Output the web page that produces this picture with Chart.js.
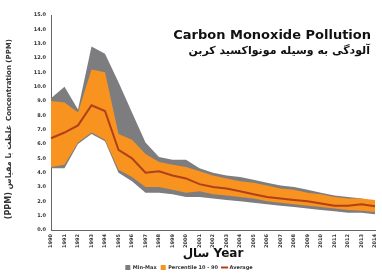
<!DOCTYPE html>
<html>
<head>
<meta charset="utf-8">
<script src="https://cdn.jsdelivr.net/npm/chart.js@4.4.1/dist/chart.umd.min.js"></script>
<style>
    html, body { margin: 0; padding: 0; background: #fff; }
    #wrap { width: 382px; height: 280px; }
</style>
</head>
<body>
<div id="wrap"><canvas id="coChart"></canvas></div>
<script>
    // data
    const years = ['1990', '1991', '1992', '1993', '1994', '1995', '1996', '1997', '1998', '1999', '2000', '2001',
        '2002', '2003', '2004', '2005', '2006', '2007', '2008', '2009', '2010', '2011', '2012', '2013', '2014'];
    const maxValues = [9.2, 10.0, 8.4, 12.8, 12.3, 10.3, 8.2, 6.1, 5.1, 4.9, 4.9, 4.3,
        4.0, 3.8, 3.7, 3.5, 3.3, 3.1, 3.0, 2.8, 2.6, 2.4, 2.3, 2.2, 2.0];
    const minValues = [4.3, 4.3, 6.0, 6.7, 6.2, 4.0, 3.4, 2.6, 2.6, 2.5, 2.3, 2.3,
        2.2, 2.1, 2.0, 1.9, 1.8, 1.7, 1.6, 1.5, 1.4, 1.3, 1.2, 1.2, 1.1];
    const p90Values = [9.0, 8.9, 8.2, 11.2, 11.0, 6.7, 6.3, 5.3, 4.75, 4.55, 4.4, 4.1,
        3.8, 3.6, 3.4, 3.3, 3.1, 2.9, 2.8, 2.6, 2.5, 2.3, 2.2, 2.2, 2.1];
    const p10Values = [4.4, 4.55, 6.1, 6.8, 6.3, 4.2, 3.7, 3.0, 3.0, 2.8, 2.6, 2.7,
        2.5, 2.4, 2.3, 2.2, 2.0, 1.9, 1.8, 1.7, 1.6, 1.5, 1.4, 1.35, 1.25];
    const avgValues = [6.4, 6.8, 7.3, 8.7, 8.3, 5.6, 5.0, 4.0, 4.1, 3.8, 3.6, 3.2,
        3.0, 2.9, 2.7, 2.5, 2.3, 2.2, 2.1, 2.0, 1.85, 1.7, 1.7, 1.8, 1.65];

    const grey = '#7d7d80';
    const orange = '#f7931e';
    const avgColor = '#b0401c';

    // titles drawn onto the canvas
    const titlesPlugin = {
        id: 'titles',
        afterDraw(chart) {
            const ctx = chart.ctx;
            ctx.save();
            ctx.fillStyle = '#111';
            ctx.textAlign = 'right';
            ctx.textBaseline = 'middle';
            ctx.font = 'bold 13px "DejaVu Sans"';
            ctx.fillText('Carbon Monoxide Pollution', 371, 36);
            ctx.font = 'bold 11px "DejaVu Sans"';
            ctx.direction = 'rtl';
            ctx.fillText('آلودگی به وسیله مونواکسید کربن', 370, 51);

            // y axis titles
            ctx.translate(9, 0);
            ctx.rotate(-Math.PI / 2);
            ctx.textAlign = 'center';
            ctx.direction = 'ltr';
            ctx.font = 'bold 7px "DejaVu Sans"';
            ctx.fillStyle = '#333';
            ctx.fillText('Concentration (PPM)', -80, 0);
            ctx.direction = 'rtl';
            ctx.font = 'bold 8px "DejaVu Sans"';
            ctx.fillText('غلظت با مقیاس (PPM)', -172, 0);
            ctx.restore();
        }
    };

    const ctx = document.getElementById('coChart');

    new Chart(ctx, {
        type: 'line',
        data: {
            labels: years,
            datasets: [
                {
                    label: 'Min-Max',
                    data: maxValues,
                    borderWidth: 0,
                    borderColor: grey,
                    backgroundColor: grey,
                    pointRadius: 0,
                    pointStyle: 'rect',
                    fill: 1,
                    order: 3
                },
                {
                    label: 'min',
                    data: minValues,
                    borderWidth: 0,
                    borderColor: grey,
                    pointRadius: 0,
                    fill: false,
                    order: 3
                },
                {
                    label: 'Percentile 10 - 90',
                    data: p90Values,
                    borderWidth: 0,
                    borderColor: orange,
                    backgroundColor: orange,
                    pointRadius: 0,
                    pointStyle: 'rect',
                    fill: 3,
                    order: 2
                },
                {
                    label: 'p10',
                    data: p10Values,
                    borderWidth: 0,
                    borderColor: orange,
                    pointRadius: 0,
                    fill: false,
                    order: 2
                },
                {
                    label: 'Average',
                    data: avgValues,
                    borderWidth: 2,
                    borderColor: avgColor,
                    backgroundColor: avgColor,
                    pointRadius: 0,
                    pointStyle: 'line',
                    fill: false,
                    order: 1
                }
            ]
        },
        options: {
            responsive: true,
            maintainAspectRatio: false,
            animation: false,
            layout: {
                padding: {left: 0, right: 4, top: 15, bottom: 0}
            },
            scales: {
                x: {
                    offset: false,
                    grid: {display: false, drawTicks: true, tickLength: 3, color: '#666'},
                    border: {color: '#666', width: 1},
                    afterFit(scale) {
                        scale.height = 31;
                    },
                    ticks: {
                        minRotation: 90,
                        maxRotation: 90,
                        autoSkip: false,
                        padding: 1,
                        color: '#333',
                        font: {size: 5, family: 'DejaVu Sans', weight: 'bold'}
                    },
                    title: {
                        display: true,
                        text: 'سال Year',
                        color: '#111',
                        padding: {top: 0, bottom: 0},
                        font: {size: 12, family: 'DejaVu Sans', weight: 'bold'}
                    }
                },
                y: {
                    min: 0,
                    max: 15,
                    grid: {display: false, drawTicks: true, tickLength: 3, color: '#666'},
                    border: {color: '#666', width: 1},
                    afterFit(scale) {
                        scale.width = 51;
                    },
                    ticks: {
                        stepSize: 1,
                        padding: 2,
                        color: '#333',
                        font: {size: 5, family: 'DejaVu Sans', weight: 'bold'},
                        callback: (v) => Number(v).toFixed(1)
                    }
                }
            },
            plugins: {
                legend: {
                    position: 'bottom',
                    labels: {
                        usePointStyle: true,
                        boxWidth: 6,
                        boxHeight: 5,
                        padding: 4,
                        color: '#333',
                        font: {size: 5, family: 'DejaVu Sans', weight: 'bold'},
                        filter: (item) => item.text !== 'min' && item.text !== 'p10',
                        sort: (a, b) => a.datasetIndex - b.datasetIndex
                    }
                },
                tooltip: {enabled: false}
            }
        },
        plugins: [titlesPlugin]
    });
</script>
</body>
</html>
